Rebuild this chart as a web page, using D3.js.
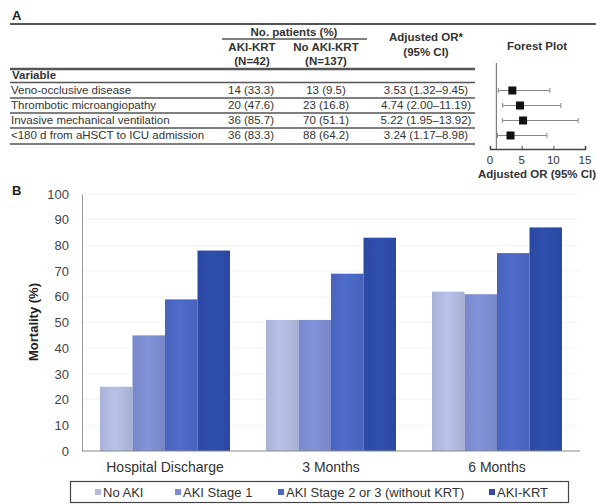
<!DOCTYPE html>
<html>
<head>
<meta charset="utf-8">
<script src="https://cdn.jsdelivr.net/npm/d3@7"></script>
<style>
  body { margin: 0; background: #fff; }
  svg { font-family: "Liberation Sans", Arial, sans-serif; }
  .tbl { font-size: 11.5px; fill: #333; }
  .hdr { font-size: 11.5px; font-weight: bold; fill: #333; }
  .rule { stroke: #555; }
</style>
</head>
<body>
<svg id="chart"></svg>
<script>
// ---- panel A data
var variables = ["Veno-occlusive disease", "Thrombotic microangiopathy", "Invasive mechanical ventilation", "<180 d from aHSCT to ICU admission"];
var akiKrtN = ["14 (33.3)", "20 (47.6)", "36 (85.7)", "36 (83.3)"];
var noAkiKrtN = ["13 (9.5)", "23 (16.8)", "70 (51.1)", "88 (64.2)"];
var orValue = [3.53, 4.74, 5.22, 3.24];
var ciLow = [1.32, 2.00, 1.95, 1.17];
var ciHigh = [9.45, 11.19, 13.92, 8.98];
var orTicks = [0, 5, 10, 15];

// ---- panel B data
var groups = ["Hospital Discharge", "3 Months", "6 Months"];
var seriesNames = ["No AKI", "AKI Stage 1", "AKI Stage 2 or 3 (without KRT)", "AKI-KRT"];
var noAki = [25, 51, 62];
var akiStage1 = [45, 51, 61];
var akiStage23 = [59, 69, 77];
var akiKrt = [78, 83, 87];
var yTicks = [0, 10, 20, 30, 40, 50, 60, 70, 80, 90, 100];
var colors = ["#b0badf", "#7d8dd1", "#4c67c4", "#2d4ca9"];

var W = 596, H = 504;
var svg = d3.select("#chart").attr("width", W).attr("height", H);

// ================= panel A
var a = svg.append("g");
a.append("text").attr("x", 12).attr("y", 20).attr("font-size", 13).attr("font-weight", "bold").attr("fill", "#222").text("A");

// rules
a.append("line").attr("class", "rule").attr("x1", 10).attr("x2", 596).attr("y1", 24).attr("y2", 24).attr("stroke-width", 2);
a.append("line").attr("class", "rule").attr("x1", 222).attr("x2", 367).attr("y1", 39).attr("y2", 39).attr("stroke-width", 1.5);
a.append("line").attr("class", "rule").attr("x1", 10).attr("x2", 475).attr("y1", 69).attr("y2", 69).attr("stroke-width", 2.5);
[82.5, 98, 113, 128, 144].forEach(function(yy) {
	a.append("line").attr("class", "rule").attr("x1", 10).attr("x2", 475).attr("y1", yy).attr("y2", yy).attr("stroke-width", 1.5);
});

// headers
a.append("text").attr("class", "hdr").attr("x", 294).attr("y", 36).attr("text-anchor", "middle").text("No. patients (%)");
a.append("text").attr("class", "hdr").attr("x", 252).attr("y", 51).attr("text-anchor", "middle").text("AKI-KRT");
a.append("text").attr("class", "hdr").attr("x", 252).attr("y", 65).attr("text-anchor", "middle").text("(N=42)");
a.append("text").attr("class", "hdr").attr("x", 326).attr("y", 51).attr("text-anchor", "middle").text("No AKI-KRT");
a.append("text").attr("class", "hdr").attr("x", 326).attr("y", 65).attr("text-anchor", "middle").text("(N=137)");
a.append("text").attr("class", "hdr").attr("x", 426).attr("y", 41).attr("text-anchor", "middle").text("Adjusted OR*");
a.append("text").attr("class", "hdr").attr("x", 426).attr("y", 56).attr("text-anchor", "middle").text("(95% CI)");
a.append("text").attr("class", "hdr").attr("x", 12).attr("y", 79).text("Variable");
a.append("text").attr("class", "hdr").attr("x", 537).attr("y", 50).attr("text-anchor", "middle").text("Forest Plot");

var row = d3.scalePoint().domain(variables).range([89.5, 134.5]);
var fmt = d3.format(".2f");

var rows = a.selectAll(".row").data(variables).enter().append("g")
	.attr("transform", function(d) { return "translate(0," + row(d) + ")"; });
rows.append("text").attr("class", "tbl").attr("x", 11).attr("dy", "0.35em").text(function(d) { return d; });
rows.append("text").attr("class", "tbl").attr("x", 251).attr("dy", "0.35em").attr("text-anchor", "middle")
	.text(function(d, i) { return akiKrtN[i]; });
rows.append("text").attr("class", "tbl").attr("x", 326).attr("dy", "0.35em").attr("text-anchor", "middle")
	.text(function(d, i) { return noAkiKrtN[i]; });
rows.append("text").attr("class", "tbl").attr("x", 426).attr("dy", "0.35em").attr("text-anchor", "middle")
	.text(function(d, i) { return fmt(orValue[i]) + " (" + fmt(ciLow[i]) + "\u2013" + fmt(ciHigh[i]) + ")"; });

// forest plot
var fx = d3.scaleLinear().domain([0, 15]).range([490, 585]);
var fAxisY = 149;
var f = a.append("g");
f.append("line").attr("x1", fx(1)).attr("x2", fx(1)).attr("y1", 63).attr("y2", fAxisY).attr("stroke", "#666").attr("stroke-width", 1);

var fAxis = f.append("g").attr("transform", "translate(0," + fAxisY + ")")
	.call(d3.axisTop(fx).tickValues(orTicks).tickSize(3).tickFormat(""));
fAxis.select(".domain").attr("stroke", "#444").attr("stroke-width", 1.5);
fAxis.selectAll(".tick line").attr("stroke", "#444");
f.selectAll(".flab").data(orTicks).enter().append("text")
	.attr("x", function(d) { return fx(d); }).attr("y", 164).attr("text-anchor", "middle")
	.attr("font-size", 11.5).attr("fill", "#333").text(function(d) { return d; });
f.append("text").attr("class", "hdr").attr("x", 537).attr("y", 178).attr("text-anchor", "middle").text("Adjusted OR (95% CI)");

var fr = f.selectAll(".frow").data(variables).enter().append("g")
	.attr("transform", function(d) { return "translate(0," + (row(d) + 1) + ")"; });
fr.append("line").attr("x1", function(d, i) { return fx(ciLow[i]); }).attr("x2", function(d, i) { return fx(ciHigh[i]); })
	.attr("stroke", "#888").attr("stroke-width", 1);
fr.append("line").attr("x1", function(d, i) { return fx(ciLow[i]); }).attr("x2", function(d, i) { return fx(ciLow[i]); })
	.attr("y1", -2.5).attr("y2", 2.5).attr("stroke", "#888");
fr.append("line").attr("x1", function(d, i) { return fx(ciHigh[i]); }).attr("x2", function(d, i) { return fx(ciHigh[i]); })
	.attr("y1", -2.5).attr("y2", 2.5).attr("stroke", "#888");
fr.append("rect").attr("x", function(d, i) { return fx(orValue[i]) - 4; }).attr("y", -4)
	.attr("width", 8).attr("height", 8).attr("fill", "#111");

// ================= panel B
var b = svg.append("g");
b.append("text").attr("x", 12).attr("y", 195).attr("font-size", 13).attr("font-weight", "bold").attr("fill", "#222").text("B");

var series = [noAki, akiStage1, akiStage23, akiKrt];
var x0 = d3.scaleBand().domain(groups).range([82, 580]);
var x1 = d3.scaleBand().domain(seriesNames).range([18, x0.bandwidth() - 18]);
var y = d3.scaleLinear().domain([0, 100]).range([451, 194]);

// gradients to mimic the soft shading
var defs = svg.append("defs");
colors.forEach(function(c, i) {
	var g = defs.append("linearGradient").attr("id", "grad" + i).attr("x1", "0").attr("x2", "1").attr("y1", "0").attr("y2", "0");
	g.append("stop").attr("offset", "0%").attr("stop-color", d3.color(c).darker(0.12));
	g.append("stop").attr("offset", "45%").attr("stop-color", d3.color(c).brighter(0.12));
	g.append("stop").attr("offset", "100%").attr("stop-color", d3.color(c).darker(0.15));
});

// faint grid
b.selectAll(".grid").data(yTicks.slice(1)).enter().append("line")
	.attr("x1", 83).attr("x2", 580).attr("y1", function(d) { return y(d); }).attr("y2", function(d) { return y(d); })
	.attr("stroke", "#f3f3f3");

var yAxis = b.append("g").attr("transform", "translate(82,0)")
	.call(d3.axisLeft(y).tickValues(yTicks).tickSize(0).tickPadding(13));
yAxis.select(".domain").attr("stroke", "#999");
yAxis.selectAll("text").attr("font-size", 13).attr("fill", "#444").attr("font-family", "Liberation Sans, Arial, sans-serif");

b.append("text").attr("transform", "translate(38,322) rotate(-90)").attr("text-anchor", "middle")
	.attr("font-size", 13).attr("font-weight", "bold").attr("fill", "#222").text("Mortality (%)");

var grp = b.selectAll(".grp").data(groups).enter().append("g")
	.attr("transform", function(d) { return "translate(" + x0(d) + ",0)"; });
grp.selectAll("rect").data(function(d, gi) {
		return seriesNames.map(function(s, si) { return {s: s, si: si, v: series[si][gi]}; });
	}).enter().append("rect")
	.attr("x", function(d) { return x1(d.s); })
	.attr("width", x1.bandwidth())
	.attr("y", function(d) { return y(d.v); })
	.attr("height", function(d) { return y(0) - y(d.v); })
	.attr("fill", function(d) { return "url(#grad" + d.si + ")"; });

b.append("line").attr("x1", 82).attr("x2", 580).attr("y1", 451).attr("y2", 451).attr("stroke", "#888").attr("stroke-width", 1);

b.selectAll(".xlab").data(groups).enter().append("text")
	.attr("x", function(d) { return x0(d) + x0.bandwidth() / 2; }).attr("y", 472)
	.attr("text-anchor", "middle").attr("font-size", 14).attr("fill", "#333").text(function(d) { return d; });

// legend
b.append("rect").attr("x", 70.5).attr("y", 481.5).attr("width", 498).attr("height", 21)
	.attr("fill", "none").attr("stroke", "#444").attr("stroke-width", 1.2);
var legX = [95, 175, 278, 489];
var leg = b.selectAll(".leg").data(seriesNames).enter().append("g")
	.attr("transform", function(d, i) { return "translate(" + legX[i] + ",491)"; });
leg.append("rect").attr("x", 0).attr("y", -2).attr("width", 6).attr("height", 6)
	.attr("fill", function(d, i) { return colors[i]; });
leg.append("text").attr("x", 8).attr("y", 5.5).attr("font-size", 13).attr("fill", "#333").text(function(d) { return d; });
</script>
</body>
</html>
